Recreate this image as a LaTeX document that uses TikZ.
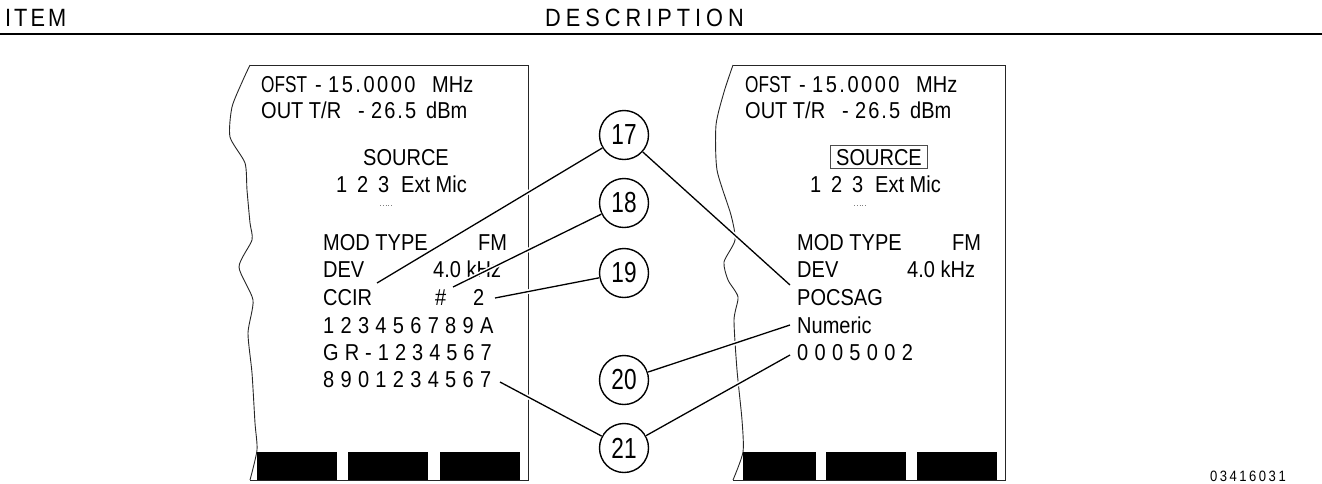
\documentclass[tikz,border=0pt]{standalone}
\usepackage{fontspec}
\setmainfont{Liberation Sans}
\newfontfamily\panelfont[FakeStretch=0.87]{Liberation Sans}
\newfontfamily\calloutfont[FakeStretch=0.78]{Liberation Sans}
\def\trk#1#2{\def\trkgap{\hspace{#1pt}}\trki#2\relax}
\def\trki#1{\ifx#1\relax\else#1\trkgap\expandafter\trki\fi}
\tikzset{
  txt/.style={anchor=base west, inner sep=0pt, font=\panelfont\fontsize{23}{27}\selectfont},
  ctxt/.style={txt, anchor=base},
  hdr/.style={anchor=base west, inner sep=0pt, font=\panelfont\fontsize{25}{29}\selectfont},
  frame/.style={line width=0.9pt, draw=black!85},
  leader/.style={line width=1.3pt, preaction={draw=white, line width=4.5pt}},
  callout/.style={circle, draw, line width=1.4pt, minimum size=49pt, inner sep=0pt, fill=white,
    font=\calloutfont\fontsize{29}{30}\selectfont},
  softkey/.style={fill=black, draw=none},
  cursor/.style={line width=0.8pt, draw=black!50, dotted},
  rulebar/.style={line width=1.6pt},
}
\begin{document}
\begin{tikzpicture}[x=1pt,y=-1pt]
\useasboundingbox (0,0) rectangle (1322,483);

% header
\node[hdr] (item) at (5,26) {\trk{3}{ITEM}};
\node[hdr] (desc) at (545,26) {\trk{5}{DESCRIPTION}};
\draw[rulebar] (0,34) -- (1322,34);

% ---------- left panel ----------
\draw[frame] plot[smooth,tension=0.4] coordinates {(250,65) (243,80) (232,107) (230,137) (245,163) (247,190) (250,223) (252,240) (239,267) (253,300) (248,333) (252,373) (255,423) (257,450) (250,480)};
\draw[frame] (250,65) -- (528,65) -- (528,480) -- (250,480);
\fill[softkey] (257,452) rectangle (337,480);
\fill[softkey] (348,452) rectangle (428,480);
\fill[softkey] (440,452) rectangle (520,480);

\node[txt] (lofst) at (261,92) {\scalebox{0.86}[1]{OFST}};
\node[txt] (lofsts) at (315,92) {-};
\node[txt] (lofstn) at (328,92) {\trk{2.5}{15.0000}};
\node[txt] (lofstu) at (432,92) {MHz};
\node[txt] (lout) at (261,118) {OUT T/R};
\node[txt] (louts) at (358,118) {-};
\node[txt] (loutn) at (371,118) {\trk{2}{26.5}};
\node[txt] (loutu) at (426,118) {dBm};
\node[ctxt] (lsrc) at (406,165) {SOURCE};
\node[txt] (ls1) at (336,192) {1};
\node[txt] (ls2) at (357,192) {2};
\node[txt] (ls3) at (378,192) {3};
\node[txt] (lsx) at (401,192) {Ext Mic};
\draw[cursor] (380,205) -- (393,205);
\node[txt] (lmod) at (323,250) {MOD TYPE};
\node[txt] (lfm) at (478,250) {FM};
\node[txt] (ldev) at (323,277) {DEV};
\node[txt] (ldevv) at (433,277) {4.0 kHz};
\node[txt] (lccir) at (323,305) {CCIR};
\node[txt] (lhash) at (435,305) {\#};
\node[txt] (lnum) at (473,305) {2};
\node[txt] (lrow1) at (323,333) {\trk{6.3}{123456789A}};
\node[txt] (lrow2) at (323,360) {\trk{6.0}{GR-1234567}};
\node[txt] (lrow3) at (323,387) {\trk{6.3}{8901234567}};

% ---------- right panel ----------
\draw[frame] plot[smooth,tension=0.4] coordinates {(733,65) (724,92) (716,125) (717,170) (731,215) (735,240) (724,262) (728,280) (738,297) (734,320) (737,370) (742,420) (743,452) (733,480)};
\draw[frame] (733,65) -- (1005,65) -- (1005,480) -- (733,480);
\fill[softkey] (743,452) rectangle (816,480);
\fill[softkey] (826,452) rectangle (906,480);
\fill[softkey] (917,452) rectangle (997,480);

\node[txt] (rofst) at (745,92) {\scalebox{0.86}[1]{OFST}};
\node[txt] (rofsts) at (799,92) {-};
\node[txt] (rofstn) at (812,92) {\trk{2.5}{15.0000}};
\node[txt] (rofstu) at (916,92) {MHz};
\node[txt] (rout) at (745,118) {OUT T/R};
\node[txt] (routs) at (842,118) {-};
\node[txt] (routn) at (855,118) {\trk{2}{26.5}};
\node[txt] (routu) at (910,118) {dBm};
\node[ctxt, draw=black!70, line width=0.8pt, inner xsep=6pt, inner ysep=3.5pt] (rsrc) at (879,165) {SOURCE};
\node[txt] (rs1) at (810,192) {1};
\node[txt] (rs2) at (831,192) {2};
\node[txt] (rs3) at (852,192) {3};
\node[txt] (rsx) at (875,192) {Ext Mic};
\draw[cursor] (854,205) -- (867,205);
\node[txt] (rmod) at (797,250) {MOD TYPE};
\node[txt] (rfm) at (952,250) {FM};
\node[txt] (rdev) at (797,277) {DEV};
\node[txt] (rdevv) at (907,277) {4.0 kHz};
\node[txt] (rpoc) at (797,305) {POCSAG};
\node[txt] (rnumer) at (797,333) {Numeric};
\node[txt] (rcode) at (797,360) {\trk{6.3}{0005002}};

% ---------- callouts ----------
\coordinate (l17) at (377,283);
\coordinate (r17) at (790,285);
\coordinate (l18) at (453,287);
\coordinate (l19) at (495,298);
\coordinate (r20) at (790,325);
\coordinate (l21) at (500,382);
\coordinate (r21) at (790,355);

\node[callout] (c17) at (624,135) {17};
\node[callout] (c18) at (624,203) {18};
\node[callout] (c19) at (624,273) {19};
\node[callout] (c20) at (624,380) {20};
\node[callout] (c21) at (624,448) {21};

\draw[leader] (c17) -- (l17);
\draw[leader] (c17) -- (r17);
\draw[leader] (c18) -- (l18);
\draw[leader] (c19) -- (l19);
\draw[leader] (c20) -- (r20);
\draw[leader] (c21) -- (l21);
\draw[leader] (c21) -- (r21);

% figure number
\node[anchor=base west, inner sep=0pt, font=\panelfont\fontsize{15}{17}\selectfont] (fignum) at (1210,481) {\trk{2.5}{03416031}};
\end{tikzpicture}
\end{document}
